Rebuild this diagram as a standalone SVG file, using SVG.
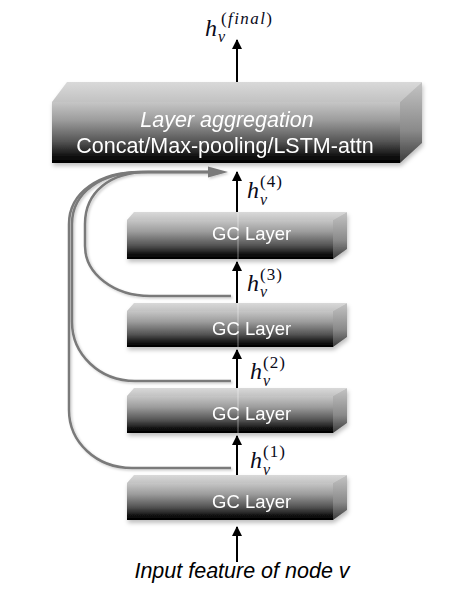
<svg xmlns="http://www.w3.org/2000/svg" width="465" height="596" viewBox="0 0 465 596">
<defs>
<linearGradient id="gFront" x1="0" y1="0" x2="0" y2="1">
<stop offset="0" stop-color="#c6c6c6"/>
<stop offset="0.3" stop-color="#9c9c9c"/>
<stop offset="0.65" stop-color="#545454"/>
<stop offset="0.88" stop-color="#111"/>
<stop offset="1" stop-color="#000"/>
</linearGradient>
<linearGradient id="gTop" x1="0" y1="0" x2="0" y2="1">
<stop offset="0" stop-color="#d9d9d9"/>
<stop offset="1" stop-color="#c2c2c2"/>
</linearGradient>
<linearGradient id="gSide" x1="0" y1="0" x2="0" y2="1">
<stop offset="0" stop-color="#c4c4c4"/>
<stop offset="0.6" stop-color="#8a8a8a"/>
<stop offset="1" stop-color="#3a3a3a"/>
</linearGradient>
<filter id="shadow" x="-10%" y="-20%" width="120%" height="150%">
<feDropShadow dx="1" dy="3" stdDeviation="2" flood-color="#000" flood-opacity="0.25"/>
</filter>
<filter id="lineShadow" x="-10%" y="-10%" width="120%" height="120%">
<feDropShadow dx="1.5" dy="1.5" stdDeviation="1.2" flood-color="#000" flood-opacity="0.2"/>
</filter>
<marker id="arrowB" markerWidth="10" markerHeight="10" refX="9" refY="5" orient="auto" markerUnits="userSpaceOnUse">
<path d="M0,0 L10,5 L0,10 Z" fill="#000"/>
</marker>
</defs>
<style>
.front{fill:url(#gFront)}
.top{fill:url(#gTop)}
.side{fill:url(#gSide)}
.gc{font-family:"Liberation Sans",Arial,sans-serif;font-size:18.5px;fill:#fff}
.agg{font-family:"Liberation Sans",Arial,sans-serif;font-size:21.5px;fill:#fff}
.math{font-family:"Liberation Serif","Times New Roman",serif;font-style:italic;fill:#0a0a1a}
.h{font-size:24px}
.sub{font-size:16px}
.sup{font-size:17px;letter-spacing:1px}
.up{font-style:normal}
.arr{stroke:#000;stroke-width:2;fill:none;marker-end:url(#arrowB)}
.skip{stroke:#7a7a7a;stroke-width:2.5;fill:none}
.seam{stroke:#ffffff;stroke-opacity:0.45;stroke-width:1}
.caption{font-family:"Liberation Sans",Arial,sans-serif;font-style:italic;font-size:21.5px;fill:#000}
</style>

<g id="aggregation" filter="url(#shadow)">
<polygon class="top" points="52,102 67,82 422,82 400,102"/>
<polygon class="side" points="400,102 422,82 422,143 400,163"/>
<rect class="front" x="52" y="102" width="348" height="61"/>
<text class="agg" x="227" y="127" text-anchor="middle" font-style="italic">Layer aggregation</text>
<text class="agg" x="225" y="153" text-anchor="middle">Concat/Max-pooling/LSTM-attn</text>
</g>

<g id="gc4" filter="url(#shadow)">
<polygon class="top" points="127,220 134,212 347,212 333,220"/>
<polygon class="side" points="333,220 347,212 347,249 333,259"/>
<rect class="front" x="127" y="220" width="206" height="39"/>
<text class="gc" x="212" y="240">GC Layer</text>
</g>

<g id="gc3" filter="url(#shadow)">
<polygon class="top" points="127,311 134,303 347,303 333,311"/>
<polygon class="side" points="333,311 347,303 347,337 333,347"/>
<rect class="front" x="127" y="311" width="206" height="36"/>
<text class="gc" x="212" y="335">GC Layer</text>
</g>

<g id="gc2" filter="url(#shadow)">
<polygon class="top" points="127,396 134,388 347,388 333,396"/>
<polygon class="side" points="333,396 347,388 347,423 333,433"/>
<rect class="front" x="127" y="396" width="206" height="37"/>
<text class="gc" x="212" y="420">GC Layer</text>
</g>

<g id="gc1" filter="url(#shadow)">
<polygon class="top" points="127,483 134,475 347,475 333,483"/>
<polygon class="side" points="333,483 347,475 347,510 333,520"/>
<rect class="front" x="127" y="483" width="206" height="37"/>
<text class="gc" x="212" y="508">GC Layer</text>
</g>

<g id="connectors">
<line class="seam" x1="238" y1="212" x2="238" y2="259"/>
<line class="seam" x1="238" y1="303" x2="238" y2="347"/>
<line class="seam" x1="238" y1="388" x2="238" y2="433"/>
<g filter="url(#lineShadow)">
<path class="skip" d="M231,296 L150,296 C114,296 85,274 85,246 L85,224 C85,192 110,172 148,172 L210,172"/>
<path class="skip" d="M231,381 L135,381 C99,381 72,354 72,322 L72,224 C72,192 102,172 142,172 L210,172"/>
<path class="skip" d="M231,468 L132,468 C96,468 69,442 69,410 L69,224 C69,192 100,172 140,172 L210,172"/>
<path d="M208,166.5 L228,172 L208,177.5 Z" fill="#7a7a7a"/>
</g>
<line class="arr" x1="237" y1="82" x2="237" y2="40"/>
<line class="arr" x1="237" y1="212" x2="237" y2="172"/>
<line class="arr" x1="237" y1="303" x2="237" y2="262"/>
<line class="arr" x1="237" y1="388" x2="237" y2="350"/>
<line class="arr" x1="237" y1="475" x2="237" y2="436"/>
<line class="arr" x1="237" y1="562" x2="237" y2="527"/>
</g>

<g id="labels">
<text class="math h" x="205" y="36">h</text>
<text class="math sub" x="218" y="42">v</text>
<text class="math sup" x="221" y="24" textLength="52" lengthAdjust="spacing"><tspan class="up">(</tspan>final<tspan class="up">)</tspan></text>

<text class="math h" x="247" y="198">h</text>
<text class="math sub" x="260" y="205">v</text>
<text class="math sup" x="260" y="187"><tspan class="up">(4)</tspan></text>

<text class="math h" x="247" y="291">h</text>
<text class="math sub" x="260" y="297">v</text>
<text class="math sup" x="260" y="280"><tspan class="up">(3)</tspan></text>

<text class="math h" x="250" y="379">h</text>
<text class="math sub" x="263" y="386">v</text>
<text class="math sup" x="263" y="368"><tspan class="up">(2)</tspan></text>

<text class="math h" x="250" y="468">h</text>
<text class="math sub" x="263" y="475">v</text>
<text class="math sup" x="263" y="457"><tspan class="up">(1)</tspan></text>

<text class="caption" x="242" y="578" text-anchor="middle">Input feature of node v</text>
</g>
</svg>
